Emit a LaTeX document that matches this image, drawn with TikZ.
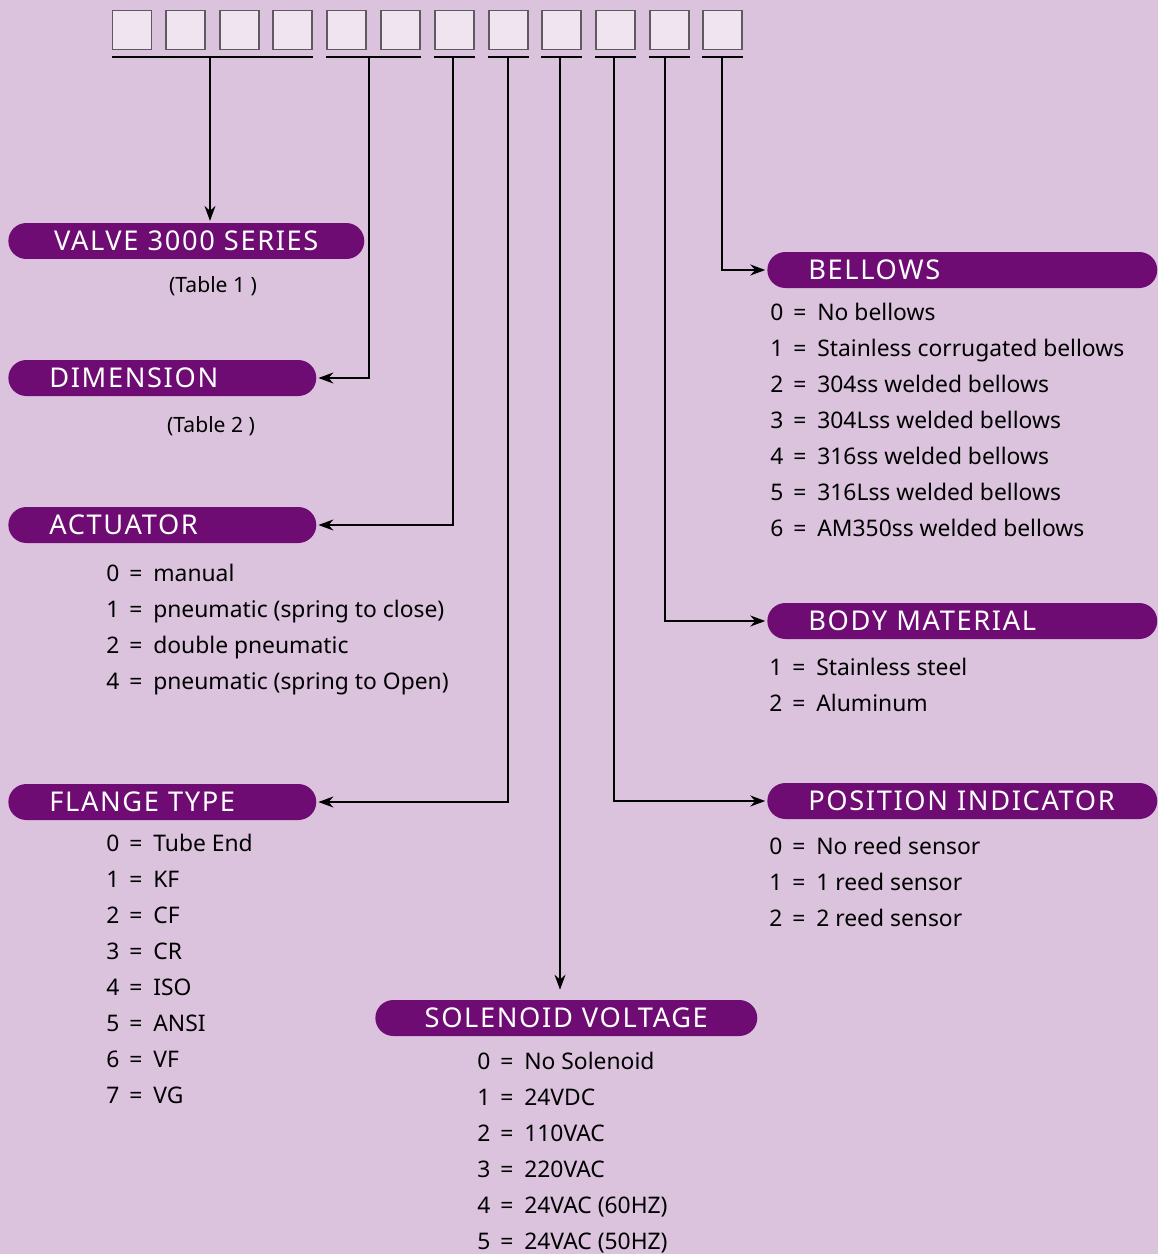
\documentclass[tikz,border=0pt]{standalone}
\usepackage{fontspec}
\setmainfont{Noto Sans}
\newfontfamily\headfont[LetterSpace=6]{Noto Sans}
\usetikzlibrary{arrows.meta, calc}

\definecolor{bgpurple}{RGB}{219,195,222}
\definecolor{pillpurple}{RGB}{110,12,116}
\definecolor{boxfill}{RGB}{240,228,241}
\definecolor{boxline}{RGB}{95,90,95}

\begin{document}
\begin{tikzpicture}[
        x=0.02cm, y=-0.02cm,
        digitbox/.style={draw=boxline, fill=boxfill, line width=0.8pt, minimum width=0.78cm, minimum height=0.78cm, inner sep=0pt},
        under line/.style={line width=0.9pt},
        conn/.style={line width=0.9pt, -{Stealth[length=0.3cm, width=0.22cm]}, shorten >=1pt},
        pill/.style={fill=pillpurple, text=white, rounded corners=0.36cm, minimum height=0.72cm, inner ysep=0pt, inner xsep=0.82cm, anchor=west, align=left, font=\headfont\fontsize{15.5}{18}\selectfont},
        item/.style={anchor=base west, inner sep=0pt, font=\fontsize{13}{15}\selectfont},
        note/.style={font=\fontsize{12}{14}\selectfont}]

    % background
    \useasboundingbox (0,0) rectangle (1158,1254);
    \fill[bgpurple] (0,0) rectangle (1158,1254);

    % code boxes
    \foreach \x [count=\i] in {132,185.5,239.5,292.5,346.5,400.5,454.5,508.5,561.5,615.5,669.5,722.5}
        \node[digitbox] (b\i) at (\x,30) {};

    % groups under the boxes
    \draw[under line] ($(b1.south west)+(0,7)$) -- ($(b4.south east)+(0,7)$);
    \draw[under line] ($(b5.south west)+(0,7)$) -- ($(b6.south east)+(0,7)$);
    \foreach \i in {7,...,12}
        \draw[under line] ($(b\i.south west)+(0,7)$) -- ($(b\i.south east)+(0,7)$);

    \coordinate (s1) at (210,57);
    \coordinate (s2) at (369,57);
    \coordinate (s3) at (453,57);
    \coordinate (s4) at (508,57);
    \coordinate (s5) at (560,57);
    \coordinate (s6) at (614,57);
    \coordinate (s7) at (665,57);
    \coordinate (s8) at (722,57);

    % headers
    \node[pill, text width=6.12cm, inner xsep=0.5cm, align=center] (valve) at (8,241) {VALVE 3000 SERIES};
    \node[pill, text width=4.52cm] (dim) at (8,378) {DIMENSION};
    \node[pill, text width=4.52cm] (act) at (8,525) {ACTUATOR};
    \node[pill, text width=4.52cm] (flange) at (8,802) {FLANGE TYPE};
    \node[pill, text width=6.64cm, inner xsep=0.5cm, align=center] (sol) at (375,1018) {SOLENOID VOLTAGE};
    \node[pill, text width=6.16cm] (bell) at (767,270) {BELLOWS};
    \node[pill, text width=6.16cm] (body) at (767,621) {BODY MATERIAL};
    \node[pill, text width=6.16cm] (pos) at (767,801) {POSITION INDICATOR};

    \node[note] (tab1) at (213,286) {(Table 1 )};
    \node[note] (tab2) at (211,426) {(Table 2 )};

    % connectors
    \draw[conn] (s1) -- (s1 |- valve.north);
    \draw[conn] (s2) |- (dim.east);
    \draw[conn] (s3) |- (act.east);
    \draw[conn] (s4) |- (flange.east);
    \draw[conn, shorten >=0.2cm] (s5) -- (s5 |- sol.north);
    \draw[conn] (s6) |- (pos.west);
    \draw[conn] (s7) |- (body.west);
    \draw[conn] (s8) |- (bell.west);

    % option lists
    \foreach \n/\t [count=\i] in {0/manual, 1/pneumatic (spring to close), 2/double pneumatic, 4/pneumatic (spring to Open)}
        \node[item] (act\i) at (106,574+36*\i-36+7) {\makebox[0.46cm][l]{\n}\makebox[0.48cm][l]{=}\t};
    \foreach \n/\t [count=\i] in {0/Tube End, 1/KF, 2/CF, 3/CR, 4/ISO, 5/ANSI, 6/VF, 7/VG}
        \node[item] (fl\i) at (106,844+36*\i-36+7) {\makebox[0.46cm][l]{\n}\makebox[0.48cm][l]{=}\t};
    \foreach \n/\t [count=\i] in {0/No Solenoid, 1/24VDC, 2/110VAC, 3/220VAC, 4/24VAC (60HZ), 5/24VAC (50HZ)}
        \node[item] (sv\i) at (477,1062+36*\i-36+7) {\makebox[0.46cm][l]{\n}\makebox[0.48cm][l]{=}\t};
    \foreach \n/\t [count=\i] in {0/No bellows, 1/Stainless corrugated bellows, 2/304ss welded bellows, 3/304Lss welded bellows, 4/316ss welded bellows, 5/316Lss welded bellows, 6/AM350ss welded bellows}
        \node[item] (bw\i) at (770,313+36*\i-36+7) {\makebox[0.46cm][l]{\n}\makebox[0.48cm][l]{=}\t};
    \foreach \n/\t [count=\i] in {1/Stainless steel, 2/Aluminum}
        \node[item] (bm\i) at (769,668+36*\i-36+7) {\makebox[0.46cm][l]{\n}\makebox[0.48cm][l]{=}\t};
    \foreach \n/\t [count=\i] in {0/No reed sensor, 1/1 reed sensor, 2/2 reed sensor}
        \node[item] (pi\i) at (769,847+36*\i-36+7) {\makebox[0.46cm][l]{\n}\makebox[0.48cm][l]{=}\t};
\end{tikzpicture}
\end{document}
